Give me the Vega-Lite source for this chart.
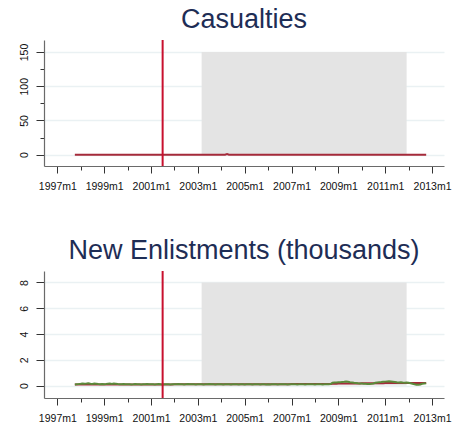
{
"$schema": "https://vega.github.io/schema/vega-lite/v6.json",
"background": "white",
"padding": {"left": 18, "top": 6, "right": 5, "bottom": 5},
"bounds": "flush",
"spacing": 105,
"config": {
  "view": {"stroke": null},
  "font": "Liberation Sans",
  "title": {"fontSize": 27, "fontWeight": "normal", "color": "#1e2d55", "font": "Liberation Sans", "anchor": "middle", "frame": "group", "offset": 5},
  "axis": {"labelFont": "Liberation Sans", "labelFontSize": 10.5, "labelColor": "#111", "domainColor": "#6a6a6a", "domainWidth": 1.2, "tickColor": "#333", "gridColor": "#eaf1f3", "gridWidth": 1.5, "title": null, "labelOverlap": false, "labelFlush": false, "tickCount": 40}
},
"datasets": {
  "ev": [{"d": "2001-07-01"}],
  "p1": [{"s": "2003-03-01", "e": "2011-12-01", "lo": 0, "hi": 150}],
  "p2": [{"s": "2003-03-01", "e": "2011-12-01", "lo": 0, "hi": 8}],
  "m": [
{"d":"1997-10-01","c":0,"r":0.08,"g":0.09},{"d":"1997-11-01","c":0,"r":0.08,"g":0.11},{"d":"1997-12-01","c":0,"r":0.08,"g":0.12},
{"d":"1998-01-01","c":0,"r":0.08,"g":0.14},{"d":"1998-02-01","c":0,"r":0.08,"g":0.17},{"d":"1998-03-01","c":0,"r":0.08,"g":0.15},{"d":"1998-04-01","c":0,"r":0.08,"g":0.16},{"d":"1998-05-01","c":0,"r":0.08,"g":0.18},{"d":"1998-06-01","c":0,"r":0.08,"g":0.14},{"d":"1998-07-01","c":0,"r":0.08,"g":0.13},{"d":"1998-08-01","c":0,"r":0.08,"g":0.16},{"d":"1998-09-01","c":0,"r":0.08,"g":0.15},{"d":"1998-10-01","c":0,"r":0.08,"g":0.12},{"d":"1998-11-01","c":0,"r":0.08,"g":0.11},{"d":"1998-12-01","c":0,"r":0.08,"g":0.12},
{"d":"1999-01-01","c":0,"r":0.09,"g":0.11},{"d":"1999-02-01","c":0,"r":0.09,"g":0.12},{"d":"1999-03-01","c":0,"r":0.09,"g":0.14},{"d":"1999-04-01","c":0,"r":0.09,"g":0.16},{"d":"1999-05-01","c":0,"r":0.09,"g":0.13},{"d":"1999-06-01","c":0,"r":0.09,"g":0.17},{"d":"1999-07-01","c":0,"r":0.09,"g":0.15},{"d":"1999-08-01","c":0,"r":0.09,"g":0.12},{"d":"1999-09-01","c":0,"r":0.09,"g":0.11},{"d":"1999-10-01","c":0,"r":0.09,"g":0.10},{"d":"1999-11-01","c":0,"r":0.09,"g":0.12},{"d":"1999-12-01","c":0,"r":0.09,"g":0.11},
{"d":"2000-01-01","c":0,"r":0.09,"g":0.10},{"d":"2000-02-01","c":0,"r":0.09,"g":0.11},{"d":"2000-03-01","c":0,"r":0.09,"g":0.09},{"d":"2000-04-01","c":0,"r":0.09,"g":0.10},{"d":"2000-05-01","c":0,"r":0.09,"g":0.12},{"d":"2000-06-01","c":0,"r":0.09,"g":0.11},{"d":"2000-07-01","c":0,"r":0.09,"g":0.10},{"d":"2000-08-01","c":0,"r":0.09,"g":0.09},{"d":"2000-09-01","c":0,"r":0.09,"g":0.11},{"d":"2000-10-01","c":0,"r":0.09,"g":0.10},{"d":"2000-11-01","c":0,"r":0.09,"g":0.12},{"d":"2000-12-01","c":0,"r":0.09,"g":0.10},
{"d":"2001-01-01","c":0,"r":0.09,"g":0.11},{"d":"2001-02-01","c":0,"r":0.09,"g":0.10},{"d":"2001-03-01","c":0,"r":0.09,"g":0.09},{"d":"2001-04-01","c":0,"r":0.09,"g":0.11},{"d":"2001-05-01","c":0,"r":0.09,"g":0.12},{"d":"2001-06-01","c":0,"r":0.09,"g":0.10},{"d":"2001-07-01","c":0,"r":0.09,"g":0.09},{"d":"2001-08-01","c":0,"r":0.09,"g":0.10},{"d":"2001-09-01","c":0,"r":0.09,"g":0.11},{"d":"2001-10-01","c":0,"r":0.09,"g":0.10},{"d":"2001-11-01","c":0,"r":0.09,"g":0.09},{"d":"2001-12-01","c":0,"r":0.09,"g":0.10},
{"d":"2002-01-01","c":0,"r":0.10,"g":0.11},{"d":"2002-02-01","c":0,"r":0.10,"g":0.10},{"d":"2002-03-01","c":0,"r":0.10,"g":0.12},{"d":"2002-04-01","c":0,"r":0.10,"g":0.11},{"d":"2002-05-01","c":0,"r":0.10,"g":0.10},{"d":"2002-06-01","c":0,"r":0.10,"g":0.09},{"d":"2002-07-01","c":0,"r":0.10,"g":0.11},{"d":"2002-08-01","c":0,"r":0.10,"g":0.12},{"d":"2002-09-01","c":0,"r":0.10,"g":0.10},{"d":"2002-10-01","c":0,"r":0.10,"g":0.11},{"d":"2002-11-01","c":0,"r":0.10,"g":0.10},{"d":"2002-12-01","c":0,"r":0.10,"g":0.09},
{"d":"2003-01-01","c":0,"r":0.10,"g":0.10},{"d":"2003-02-01","c":0,"r":0.10,"g":0.11},{"d":"2003-03-01","c":0,"r":0.10,"g":0.10},{"d":"2003-04-01","c":0,"r":0.10,"g":0.09},{"d":"2003-05-01","c":0,"r":0.10,"g":0.11},{"d":"2003-06-01","c":0,"r":0.10,"g":0.10},{"d":"2003-07-01","c":0,"r":0.10,"g":0.12},{"d":"2003-08-01","c":0,"r":0.10,"g":0.11},{"d":"2003-09-01","c":0,"r":0.10,"g":0.10},{"d":"2003-10-01","c":0,"r":0.10,"g":0.09},{"d":"2003-11-01","c":0,"r":0.10,"g":0.10},{"d":"2003-12-01","c":0,"r":0.10,"g":0.11},
{"d":"2004-01-01","c":0,"r":0.10,"g":0.10},{"d":"2004-02-01","c":0,"r":0.10,"g":0.09},{"d":"2004-03-01","c":0,"r":0.10,"g":0.10},{"d":"2004-04-01","c":1,"r":0.10,"g":0.11},{"d":"2004-05-01","c":0,"r":0.10,"g":0.10},{"d":"2004-06-01","c":0,"r":0.10,"g":0.09},{"d":"2004-07-01","c":0,"r":0.10,"g":0.10},{"d":"2004-08-01","c":0,"r":0.10,"g":0.11},{"d":"2004-09-01","c":0,"r":0.10,"g":0.10},{"d":"2004-10-01","c":0,"r":0.10,"g":0.09},{"d":"2004-11-01","c":0,"r":0.10,"g":0.10},{"d":"2004-12-01","c":0,"r":0.10,"g":0.10},
{"d":"2005-01-01","c":0,"r":0.11,"g":0.09},{"d":"2005-02-01","c":0,"r":0.11,"g":0.10},{"d":"2005-03-01","c":0,"r":0.11,"g":0.11},{"d":"2005-04-01","c":0,"r":0.11,"g":0.10},{"d":"2005-05-01","c":0,"r":0.11,"g":0.09},{"d":"2005-06-01","c":0,"r":0.11,"g":0.10},{"d":"2005-07-01","c":0,"r":0.11,"g":0.11},{"d":"2005-08-01","c":0,"r":0.11,"g":0.10},{"d":"2005-09-01","c":0,"r":0.11,"g":0.09},{"d":"2005-10-01","c":0,"r":0.11,"g":0.10},{"d":"2005-11-01","c":0,"r":0.11,"g":0.10},{"d":"2005-12-01","c":0,"r":0.11,"g":0.09},
{"d":"2006-01-01","c":0,"r":0.11,"g":0.10},{"d":"2006-02-01","c":0,"r":0.11,"g":0.09},{"d":"2006-03-01","c":0,"r":0.11,"g":0.10},{"d":"2006-04-01","c":0,"r":0.11,"g":0.11},{"d":"2006-05-01","c":0,"r":0.11,"g":0.10},{"d":"2006-06-01","c":0,"r":0.11,"g":0.09},{"d":"2006-07-01","c":0,"r":0.11,"g":0.10},{"d":"2006-08-01","c":0,"r":0.11,"g":0.10},{"d":"2006-09-01","c":0,"r":0.11,"g":0.11},{"d":"2006-10-01","c":0,"r":0.11,"g":0.10},{"d":"2006-11-01","c":0,"r":0.11,"g":0.09},{"d":"2006-12-01","c":0,"r":0.11,"g":0.10},
{"d":"2007-01-01","c":0,"r":0.12,"g":0.10},{"d":"2007-02-01","c":0,"r":0.12,"g":0.11},{"d":"2007-03-01","c":0,"r":0.12,"g":0.10},{"d":"2007-04-01","c":0,"r":0.12,"g":0.09},{"d":"2007-05-01","c":0,"r":0.12,"g":0.10},{"d":"2007-06-01","c":0,"r":0.12,"g":0.11},{"d":"2007-07-01","c":0,"r":0.12,"g":0.10},{"d":"2007-08-01","c":0,"r":0.12,"g":0.09},{"d":"2007-09-01","c":0,"r":0.12,"g":0.10},{"d":"2007-10-01","c":0,"r":0.12,"g":0.11},{"d":"2007-11-01","c":0,"r":0.12,"g":0.10},{"d":"2007-12-01","c":0,"r":0.12,"g":0.10},
{"d":"2008-01-01","c":0,"r":0.13,"g":0.09},{"d":"2008-02-01","c":0,"r":0.13,"g":0.10},{"d":"2008-03-01","c":0,"r":0.13,"g":0.11},{"d":"2008-04-01","c":0,"r":0.13,"g":0.10},{"d":"2008-05-01","c":0,"r":0.13,"g":0.09},{"d":"2008-06-01","c":0,"r":0.13,"g":0.10},{"d":"2008-07-01","c":0,"r":0.13,"g":0.11},{"d":"2008-08-01","c":0,"r":0.13,"g":0.10},{"d":"2008-09-01","c":0,"r":0.13,"g":0.12},{"d":"2008-10-01","c":0,"r":0.14,"g":0.22},{"d":"2008-11-01","c":0,"r":0.14,"g":0.24},{"d":"2008-12-01","c":0,"r":0.14,"g":0.25},
{"d":"2009-01-01","c":0,"r":0.16,"g":0.26},{"d":"2009-02-01","c":0,"r":0.16,"g":0.27},{"d":"2009-03-01","c":0,"r":0.16,"g":0.29},{"d":"2009-04-01","c":0,"r":0.16,"g":0.30},{"d":"2009-05-01","c":0,"r":0.16,"g":0.32},{"d":"2009-06-01","c":0,"r":0.16,"g":0.30},{"d":"2009-07-01","c":0,"r":0.16,"g":0.27},{"d":"2009-08-01","c":0,"r":0.16,"g":0.25},{"d":"2009-09-01","c":0,"r":0.16,"g":0.22},{"d":"2009-10-01","c":0,"r":0.16,"g":0.20},{"d":"2009-11-01","c":0,"r":0.16,"g":0.18},{"d":"2009-12-01","c":0,"r":0.16,"g":0.17},
{"d":"2010-01-01","c":0,"r":0.18,"g":0.16},{"d":"2010-02-01","c":0,"r":0.18,"g":0.15},{"d":"2010-03-01","c":0,"r":0.18,"g":0.14},{"d":"2010-04-01","c":0,"r":0.18,"g":0.13},{"d":"2010-05-01","c":0,"r":0.18,"g":0.12},{"d":"2010-06-01","c":0,"r":0.18,"g":0.14},{"d":"2010-07-01","c":0,"r":0.18,"g":0.17},{"d":"2010-08-01","c":0,"r":0.18,"g":0.22},{"d":"2010-09-01","c":0,"r":0.18,"g":0.25},{"d":"2010-10-01","c":0,"r":0.18,"g":0.27},{"d":"2010-11-01","c":0,"r":0.18,"g":0.28},{"d":"2010-12-01","c":0,"r":0.18,"g":0.30},
{"d":"2011-01-01","c":0,"r":0.20,"g":0.31},{"d":"2011-02-01","c":0,"r":0.20,"g":0.32},{"d":"2011-03-01","c":0,"r":0.20,"g":0.33},{"d":"2011-04-01","c":0,"r":0.20,"g":0.32},{"d":"2011-05-01","c":0,"r":0.20,"g":0.30},{"d":"2011-06-01","c":0,"r":0.20,"g":0.28},{"d":"2011-07-01","c":0,"r":0.20,"g":0.26},{"d":"2011-08-01","c":0,"r":0.20,"g":0.25},{"d":"2011-09-01","c":0,"r":0.20,"g":0.26},{"d":"2011-10-01","c":0,"r":0.20,"g":0.24},{"d":"2011-11-01","c":0,"r":0.20,"g":0.23},{"d":"2011-12-01","c":0,"r":0.20,"g":0.25},
{"d":"2012-01-01","c":0,"r":0.21,"g":0.22},{"d":"2012-02-01","c":0,"r":0.21,"g":0.18},{"d":"2012-03-01","c":0,"r":0.21,"g":0.14},{"d":"2012-04-01","c":0,"r":0.21,"g":0.10},{"d":"2012-05-01","c":0,"r":0.21,"g":0.07},{"d":"2012-06-01","c":0,"r":0.21,"g":0.06},{"d":"2012-07-01","c":0,"r":0.21,"g":0.09},{"d":"2012-08-01","c":0,"r":0.21,"g":0.14},{"d":"2012-09-01","c":0,"r":0.21,"g":0.17},{"d":"2012-10-01","c":0,"r":0.21,"g":0.19}
  ]
},
"vconcat": [
  {
    "title": "Casualties",
    "width": 400,
    "height": 126,
    "layer": [
      {
        "data": {"name": "p1"},
        "mark": {"type": "rect", "color": "#e4e4e4"},
        "encoding": {
          "x": {"field": "s", "type": "temporal",
                "scale": {"type": "utc", "domain": [{"year": 1996, "month": 6, "date": 7, "utc": true}, {"year": 2013, "month": 7, "date": 6, "utc": true}]},
                "axis": {"values": [{"year":1997,"utc":true},{"year":1998,"utc":true},{"year":1999,"utc":true},{"year":2000,"utc":true},{"year":2001,"utc":true},{"year":2002,"utc":true},{"year":2003,"utc":true},{"year":2004,"utc":true},{"year":2005,"utc":true},{"year":2006,"utc":true},{"year":2007,"utc":true},{"year":2008,"utc":true},{"year":2009,"utc":true},{"year":2010,"utc":true},{"year":2011,"utc":true},{"year":2012,"utc":true},{"year":2013,"utc":true}],
                         "tickCount": 40,
                         "labelExpr": "utcyear(datum.value) % 2 == 1 ? utcyear(datum.value) + 'm1' : ''",
                         "tickSize": {"condition": {"test": "utcyear(datum.value) % 2 == 1", "value": 7}, "value": 4},
                         "grid": false, "labelPadding": 8}},
          "x2": {"field": "e"},
          "y": {"field": "lo", "type": "quantitative",
                "scale": {"domain": [-16.5, 167.5], "nice": false, "zero": false},
                "axis": {"values": [0, 25, 50, 75, 100, 125, 150],
                         "tickCount": 40, "format": "d",
                         "labelExpr": "datum.value % 50 == 0 ? datum.label : ''",
                         "tickSize": {"condition": {"test": "datum.value % 50 == 0", "value": 8}, "value": 4},
                         "gridOpacity": {"condition": {"test": "datum.value % 50 == 0", "value": 1}, "value": 0},
                         "grid": true, "labelAngle": -90, "labelAlign": "center", "labelBaseline": "bottom", "labelPadding": 7}},
          "y2": {"field": "hi"}
        }
      },
      {
        "data": {"name": "m"},
        "mark": {"type": "line", "color": "#a52a3a", "strokeWidth": 2},
        "encoding": {
          "x": {"field": "d", "type": "temporal"},
          "y": {"field": "c", "type": "quantitative"}
        }
      },
      {
        "data": {"name": "ev"},
        "mark": {"type": "rule", "color": "#c8102e", "strokeWidth": 2},
        "encoding": {"x": {"field": "d", "type": "temporal"}}
      }
    ]
  },
  {
    "title": "New Enlistments (thousands)",
    "width": 400,
    "height": 127,
    "layer": [
      {
        "data": {"name": "p2"},
        "mark": {"type": "rect", "color": "#e4e4e4"},
        "encoding": {
          "x": {"field": "s", "type": "temporal",
                "scale": {"type": "utc", "domain": [{"year": 1996, "month": 6, "date": 7, "utc": true}, {"year": 2013, "month": 7, "date": 6, "utc": true}]},
                "axis": {"values": [{"year":1997,"utc":true},{"year":1998,"utc":true},{"year":1999,"utc":true},{"year":2000,"utc":true},{"year":2001,"utc":true},{"year":2002,"utc":true},{"year":2003,"utc":true},{"year":2004,"utc":true},{"year":2005,"utc":true},{"year":2006,"utc":true},{"year":2007,"utc":true},{"year":2008,"utc":true},{"year":2009,"utc":true},{"year":2010,"utc":true},{"year":2011,"utc":true},{"year":2012,"utc":true},{"year":2013,"utc":true}],
                         "tickCount": 40,
                         "labelExpr": "utcyear(datum.value) % 2 == 1 ? utcyear(datum.value) + 'm1' : ''",
                         "tickSize": {"condition": {"test": "utcyear(datum.value) % 2 == 1", "value": 7}, "value": 4},
                         "grid": false, "labelPadding": 8}},
          "x2": {"field": "e"},
          "y": {"field": "lo", "type": "quantitative",
                "scale": {"domain": [-0.96, 8.89], "nice": false, "zero": false},
                "axis": {"values": [0, 2, 4, 6, 8],
                         "tickCount": 40, "format": "d",
                         "tickSize": 8,
                         "grid": true, "labelAngle": -90, "labelAlign": "center", "labelBaseline": "bottom", "labelPadding": 7}},
          "y2": {"field": "hi"}
        }
      },
      {
        "data": {"name": "m"},
        "mark": {"type": "line", "color": "#a52a3a", "strokeWidth": 2},
        "encoding": {
          "x": {"field": "d", "type": "temporal"},
          "y": {"field": "r", "type": "quantitative"}
        }
      },
      {
        "data": {"name": "m"},
        "mark": {"type": "line", "color": "#5b8a3a", "strokeWidth": 2},
        "encoding": {
          "x": {"field": "d", "type": "temporal"},
          "y": {"field": "g", "type": "quantitative"}
        }
      },
      {
        "data": {"name": "ev"},
        "mark": {"type": "rule", "color": "#c8102e", "strokeWidth": 2},
        "encoding": {"x": {"field": "d", "type": "temporal"}}
      }
    ]
  }
]
}
